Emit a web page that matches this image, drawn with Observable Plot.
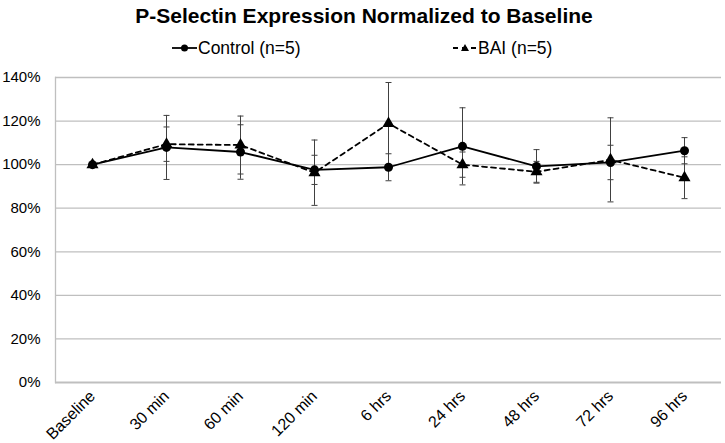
<!DOCTYPE html>
<html><head><meta charset="utf-8">
<script src="https://cdn.jsdelivr.net/npm/d3@7"></script>
<script src="https://cdn.jsdelivr.net/npm/@observablehq/plot@0.6"></script>
<style>
body{margin:0;background:#fff;}
#wrap{width:725px;position:relative;font-family:"Liberation Sans",Arial,sans-serif;color:#000;}
#title{height:32px;line-height:32px;text-align:center;font-weight:bold;font-size:21px;white-space:nowrap;padding-left:3px;}
#legend{height:32px;position:relative;font-size:17.5px;}
.li{position:absolute;top:0;height:32px;line-height:32px;white-space:nowrap;}
.sym{position:absolute;top:10px;}
</style>
</head><body>
<div id="wrap">
  <div id="title">P-Selectin Expression Normalized to Baseline</div>
  <div id="legend">
    <svg class="sym" style="left:172px" width="25" height="12"><line x1="0" y1="6" x2="25" y2="6" stroke="#000" stroke-width="1.8"/><circle cx="12.5" cy="6" r="3.5" fill="#000"/></svg>
    <div class="li" style="left:198px">Control (n=5)</div>
    <svg class="sym" style="left:453px" width="24" height="12"><line x1="0" y1="6" x2="24" y2="6" stroke="#000" stroke-width="1.8" stroke-dasharray="5,4"/><path d="M12,2 L16,9 L8,9 Z" fill="#000"/></svg>
    <div class="li" style="left:478px">BAI (n=5)</div>
  </div>
  <div id="chart"></div>
</div>
<script>
const categories = ["Baseline","30 min","60 min","120 min","6 hrs","24 hrs","48 hrs","72 hrs","96 hrs"];
const control    = [100, 107.9, 105.8, 97.6, 98.8, 108.4, 99.2, 101.0, 106.4];
const controlErr = [0, 14.7, 12.5, 6.7, 6.2, 17.7, 7.7, 7.9, 6.0];
const bai        = [100, 109.4, 109.0, 96.3, 118.9, 100.0, 96.7, 102.2, 94.0];
const baiErr     = [0, 7.9, 13.3, 15.0, 18.8, 5.8, 4.8, 19.3, 9.6];
const yTicks     = [0, 20, 40, 60, 80, 100, 120, 140];

const font = '"Liberation Sans",Arial,sans-serif';
const mk = (vals, errs) => categories.map((c, i) => ({cat: c, v: vals[i], e: errs[i]}));
const cData = mk(control, controlErr);
const bData = mk(bai, baiErr);
const errs = [...cData, ...bData].filter(d => d.e > 0).map(d => ({cat: d.cat, lo: d.v - d.e, hi: d.v + d.e}));
const caps = errs.flatMap(d => [{cat: d.cat, y: d.lo}, {cat: d.cat, y: d.hi}]);
const capSymbol = {draw(ctx, size) { const w = Math.sqrt(size / Math.PI); ctx.moveTo(-w, 0); ctx.lineTo(w, 0); }};

const chart = Plot.plot({
  width: 725, height: 379,
  marginTop: 13, marginBottom: 61, marginLeft: 55, marginRight: 4,
  style: {fontFamily: font, fontSize: "15px", color: "#000", background: "#fff", overflow: "visible"},
  x: {type: "point", domain: categories, padding: 0.5, label: null},
  y: {domain: [0, 140], label: null},
  marks: [
    Plot.ruleY(yTicks.filter(t => t > 0), {stroke: "#bfbfbf", strokeWidth: 1.3}),
    Plot.frame({anchor: "left", stroke: "#bfbfbf", strokeWidth: 1.3}),
    Plot.ruleY([0], {stroke: "#bfbfbf", strokeWidth: 2}),
    Plot.axisY({ticks: yTicks, tickSize: 0, tickPadding: 15, tickFormat: d => d + "%", fontSize: 15}),
    Plot.axisX({tickSize: 0, tickPadding: 11, tickRotate: -45, fontSize: 16}),
    Plot.ruleX(errs, {x: "cat", y1: "lo", y2: "hi", stroke: "#404040", strokeWidth: 1}),
    Plot.dot(caps, {x: "cat", y: "y", r: 3, symbol: capSymbol, stroke: "#404040", strokeWidth: 1, fill: "none"}),
    Plot.line(cData, {x: "cat", y: "v", stroke: "#000", strokeWidth: 1.8}),
    Plot.line(bData, {x: "cat", y: "v", stroke: "#000", strokeWidth: 1.8, strokeDasharray: "5,4"}),
    Plot.dot(cData, {x: "cat", y: "v", symbol: "circle", r: 4.5, fill: "#000"}),
    Plot.dot(bData, {x: "cat", y: "v", symbol: "triangle", r: 4.5, fill: "#000"})
  ]
});
document.getElementById("chart").appendChild(chart);
</script>
</body></html>
